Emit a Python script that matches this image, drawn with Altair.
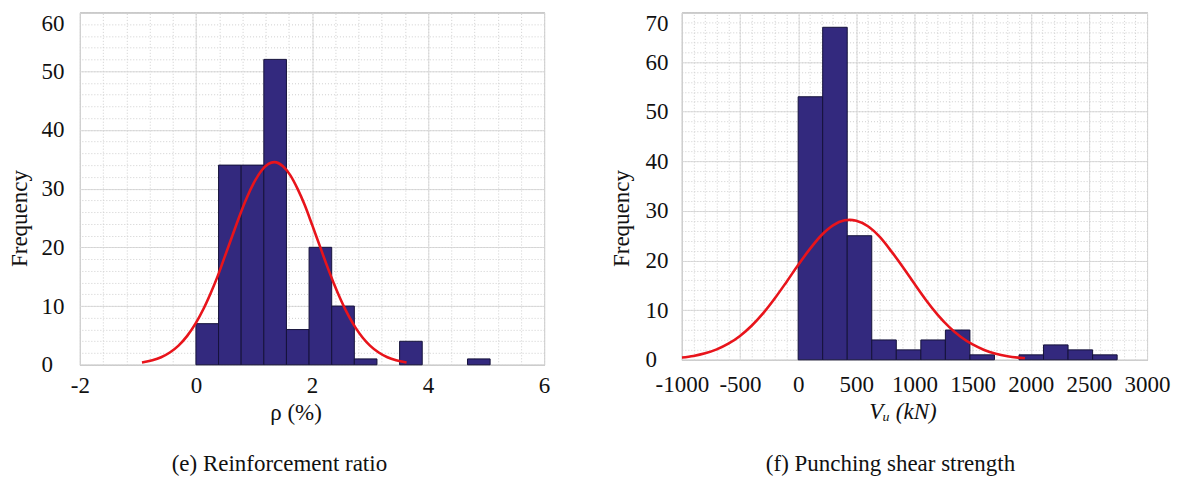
import altair as alt
import pandas as pd

# ---------------- data ----------------
# (e) Reinforcement ratio rho (%)
rho_bin_lo = [0.00, 0.39, 0.78, 1.17, 1.56, 1.95, 2.34, 2.73, 3.12, 3.51, 3.90, 4.29, 4.68]
rho_bin_hi = [0.39, 0.78, 1.17, 1.56, 1.95, 2.34, 2.73, 3.12, 3.51, 3.90, 4.29, 4.68, 5.07]
rho_counts = [7, 34, 34, 52, 6, 20, 10, 1, 0, 4, 0, 0, 1]
rho_fit_x = [-0.93, -0.75, -0.6, -0.45, -0.3, -0.15, 0.0, 0.125, 0.25, 0.375, 0.5, 0.625,
             0.75, 0.875, 1.0, 1.125, 1.25, 1.35, 1.5, 1.625, 1.75, 1.875, 2.0, 2.125,
             2.25, 2.375, 2.5, 2.625, 2.75, 2.875, 3.0, 3.15, 3.3, 3.45, 3.63]
rho_fit_y = [0.38, 0.76, 1.28, 2.09, 3.27, 4.92, 7.13, 9.41, 12.1, 15.1, 18.5, 21.9,
             25.3, 28.4, 31.0, 33.0, 34.2, 34.5, 33.8, 32.3, 30.0, 27.2, 23.9, 20.5,
             17.1, 13.9, 11.0, 8.44, 6.33, 4.61, 3.27, 2.09, 1.28, 0.76, 0.38]

# (f) Punching shear strength Vu (kN)
vu_bin_lo = [0, 211, 422, 633, 844, 1055, 1266, 1477, 1688, 1899, 2110, 2321, 2532]
vu_bin_hi = [211, 422, 633, 844, 1055, 1266, 1477, 1688, 1899, 2110, 2321, 2532, 2743]
vu_counts = [53, 67, 25, 4, 2, 4, 6, 1, 0, 1, 3, 2, 1]
vu_fit_x = [-1000, -900, -800, -700, -600, -500, -400, -300, -200, -100, 0, 100, 200, 300,
            400, 444, 500, 600, 700, 800, 900, 1000, 1100, 1200, 1300, 1400, 1500, 1600,
            1700, 1800, 1950]
vu_fit_y = [0.45, 0.78, 1.31, 2.10, 3.24, 4.81, 6.86, 9.40, 12.4, 15.7, 19.1, 22.3, 25.1, 27.1,
            28.1, 28.2, 28.0, 26.9, 24.8, 21.9, 18.7, 15.3, 12.0, 9.07, 6.59, 4.60, 3.09, 1.99,
            1.23, 0.73, 0.31]

# tick labels
rho_xticks = [-2, 0, 2, 4, 6]
rho_yticks = [0, 10, 20, 30, 40, 50, 60]
vu_xticks = [-1000, -500, 0, 500, 1000, 1500, 2000, 2500, 3000]
vu_yticks = [0, 10, 20, 30, 40, 50, 60, 70]

# ---------------- styling ----------------
FONT = "Liberation Serif"
FS = 23
BAR = "#33297e"
BAR_EDGE = "#15123a"
RED = "#e8141b"
GRID = "#dcdcdc"
MINOR = "#cfcfcf"
LABEL_EXPR = "toString(datum.value)"


def minor_steps(lo, hi, step):
    out = []
    v = lo
    while v <= hi + 1e-9:
        out.append(round(v, 6))
        v += step
    return out


def panel(lo, hi, counts, fx, fy, xdom, xticks, xstep, ydom, yticks, ystep,
          w, h, xtitle, xtitle_style, xtitle_x, xtitle_y, xlabpad, ylabpad,
          top_value, caption, cap_offset):
    bars = pd.DataFrame({"lo": lo, "hi": hi, "count": counts})
    curve = pd.DataFrame({"x": fx, "y": fy})
    xs = alt.Scale(domain=xdom, nice=False, zero=False)
    ys = alt.Scale(domain=ydom, nice=False, zero=False)

    major_x = alt.Axis(values=xticks, grid=True, gridColor=GRID, gridWidth=1,
                       domain=False, ticks=False, labelFont=FONT, labelFontSize=FS,
                       labelColor="#111", labelPadding=xlabpad, labelFlush=False,
                       labelExpr=LABEL_EXPR,
                       title=xtitle, titleFont=FONT, titleFontSize=FS,
                       titleFontWeight="normal", titleFontStyle=xtitle_style,
                       titleColor="#111", titleX=xtitle_x, titleY=xtitle_y,
                       titleAlign="center", titleBaseline="middle")
    major_y = alt.Axis(values=yticks, grid=True, gridColor=GRID, gridWidth=1,
                       domain=False, ticks=False, labelFont=FONT, labelFontSize=FS,
                       labelColor="#111", labelAlign="left", labelPadding=ylabpad,
                       labelBaseline={"condition": {"test": f"datum.value == {top_value}",
                                                    "value": "top"},
                                      "value": "middle"},
                       labelFlush=False, labelExpr=LABEL_EXPR,
                       title="Frequency", titleFont=FONT, titleFontSize=FS,
                       titleFontWeight="normal", titleColor="#111", titleAngle=270,
                       titleX=-60, titleY=206, titleAlign="center",
                       titleBaseline="middle")
    minor_x = alt.Axis(orient="top", values=minor_steps(xdom[0], xdom[1], xstep),
                       grid=True, gridColor=MINOR, gridDash=[1, 2], gridWidth=1,
                       domain=False, ticks=False, labels=False, title=None)
    minor_y = alt.Axis(orient="right", values=minor_steps(ydom[0], ydom[1], ystep),
                       grid=True, gridColor=MINOR, gridDash=[1, 2], gridWidth=1,
                       domain=False, ticks=False, labels=False, title=None)

    bar_layer = alt.Chart(bars).transform_filter("datum.count > 0").mark_bar(
        color=BAR, stroke=BAR_EDGE, strokeWidth=1
    ).encode(
        x=alt.X("lo:Q", scale=xs, axis=major_x),
        x2="hi:Q",
        y=alt.Y("count:Q", scale=ys, axis=major_y),
        y2=alt.datum(0),
    )
    line_layer = alt.Chart(curve).mark_line(
        color=RED, strokeWidth=2.6, interpolate="monotone", clip=True
    ).encode(
        x=alt.X("x:Q", scale=xs, axis=minor_x),
        y=alt.Y("y:Q", scale=ys, axis=minor_y),
    )
    return alt.layer(bar_layer, line_layer).resolve_axis(
        x="independent", y="independent"
    ).properties(
        width=w, height=h,
        title=alt.TitleParams(caption, orient="bottom", frame="bounds", anchor="middle",
                              font=FONT, fontSize=FS, fontWeight="normal",
                              color="#111", offset=cap_offset),
    )


left = panel(rho_bin_lo, rho_bin_hi, rho_counts, rho_fit_x, rho_fit_y,
             [-2, 6], rho_xticks, 0.4, [0, 60], rho_yticks, 2,
             465, 353, "ρ (%)", "normal", 216, 48, 10, 39, 60,
             "(e)  Reinforcement ratio", 28)

right = panel(vu_bin_lo, vu_bin_hi, vu_counts, vu_fit_x, vu_fit_y,
              [-1000, 3000], vu_xticks, 100, [0, 70], vu_yticks, 2,
              466, 348, "Vᵤ (kN)", "italic", 221, 52, 14, 37, 70,
              "(f)  Punching shear strength", 29)

chart = alt.hconcat(left, right, spacing=59).properties(
    padding={"left": 0, "top": 3, "right": 0, "bottom": 0},
    background="white",
).configure_view(
    stroke="#777777", strokeWidth=1
).configure_axis(
    labelFont=FONT, labelFontSize=FS, titleFont=FONT, titleFontSize=FS
)

chart.save("out.html", embed_options={"renderer": "svg", "actions": False})
